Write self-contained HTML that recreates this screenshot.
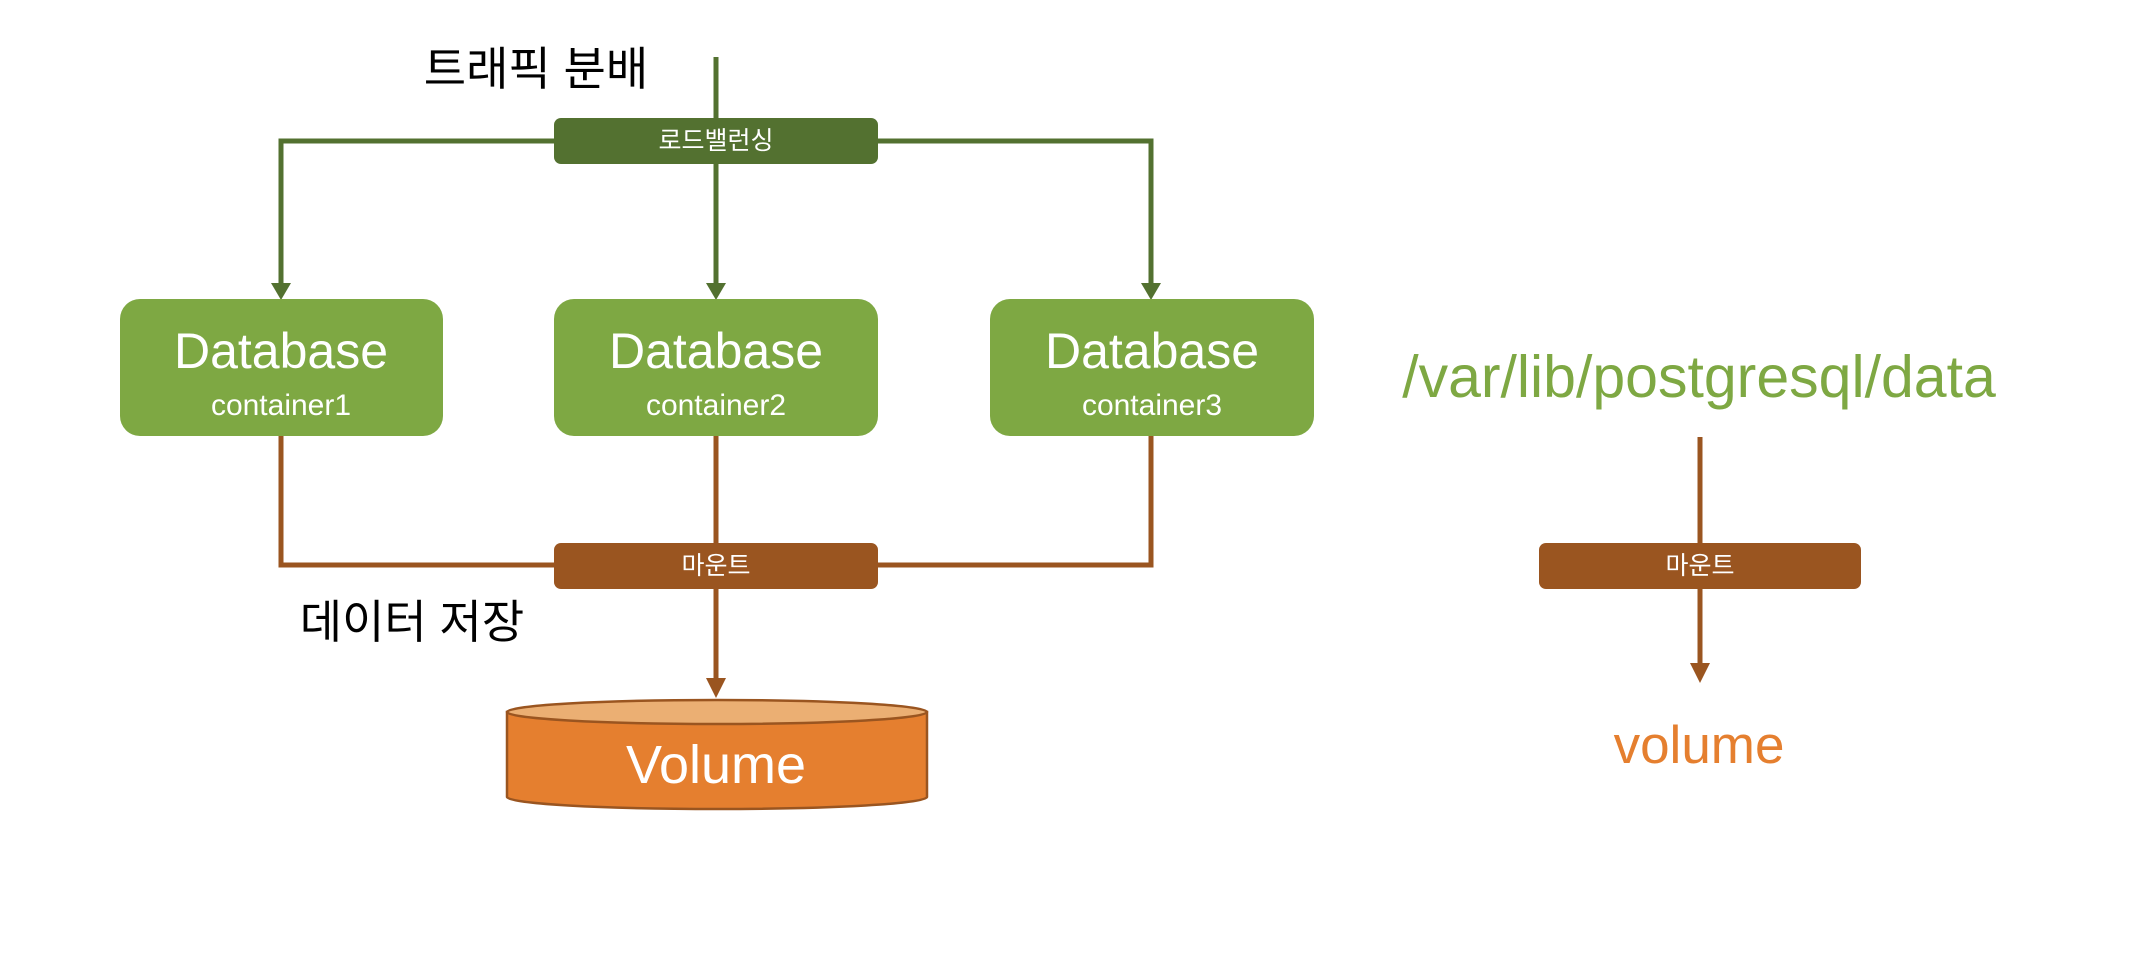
<!DOCTYPE html>
<html><head><meta charset="utf-8"><style>
html,body{margin:0;padding:0;background:#fff;}
svg text{font-family:"Liberation Sans","Noto Sans CJK KR",sans-serif;}
</style></head><body>
<svg width="2144" height="966" viewBox="0 0 2144 966" xmlns="http://www.w3.org/2000/svg">
<g stroke="#537130" stroke-width="5" fill="none">
<line x1="716" y1="57" x2="716" y2="290"/>
<polyline points="281,290 281,141 1151,141 1151,290"/>
</g>
<g fill="#537130">
<path d="M271,283 L291,283 L281,300 z"/>
<path d="M706,283 L726,283 L716,300 z"/>
<path d="M1141,283 L1161,283 L1151,300 z"/>
</g>
<rect x="554" y="118" width="324" height="46" rx="7" fill="#537130"/>
<text x="716" y="149" font-size="25" fill="#fff" text-anchor="middle">로드밸런싱</text>
<text x="536" y="85" font-size="46" fill="#000" text-anchor="middle">트래픽 분배</text>

<g fill="#7ea843">
<rect x="120" y="299" width="323" height="137" rx="20"/>
<rect x="554" y="299" width="324" height="137" rx="20"/>
<rect x="990" y="299" width="324" height="137" rx="20"/>
</g>
<g fill="#fff" text-anchor="middle">
<text x="281" y="368" font-size="50">Database</text>
<text x="281" y="415" font-size="30">container1</text>
<text x="716" y="368" font-size="50">Database</text>
<text x="716" y="415" font-size="30">container2</text>
<text x="1152" y="368" font-size="50">Database</text>
<text x="1152" y="415" font-size="30">container3</text>
</g>

<g stroke="#9a5520" stroke-width="5" fill="none">
<polyline points="281,436 281,565 1151,565 1151,436"/>
<line x1="716" y1="436" x2="716" y2="690"/>
<line x1="1700" y1="437" x2="1700" y2="670"/>
</g>
<g fill="#9a5520">
<path d="M706,678 L726,678 L716,698 z"/>
<path d="M1690,663 L1710,663 L1700,683 z"/>
</g>
<rect x="554" y="543" width="324" height="46" rx="7" fill="#9a5520"/>
<text x="716" y="574" font-size="25" fill="#fff" text-anchor="middle">마운트</text>
<rect x="1539" y="543" width="322" height="46" rx="7" fill="#9a5520"/>
<text x="1700" y="574" font-size="25" fill="#fff" text-anchor="middle">마운트</text>
<text x="412" y="638" font-size="46" fill="#000" text-anchor="middle">데이터 저장</text>

<path d="M507,712 L507,797 A210,12 0 0 0 927,797 L927,712 z" fill="#e57f2f" stroke="#9a5520" stroke-width="2.5"/>
<ellipse cx="717" cy="712" rx="210" ry="12" fill="#ebaf73" stroke="#9a5520" stroke-width="2.5"/>
<text x="716" y="783" font-size="54" fill="#fff" text-anchor="middle">Volume</text>

<text x="1699" y="397" font-size="59" fill="#7ea843" text-anchor="middle">/var/lib/postgresql/data</text>
<text x="1699" y="763" font-size="53" fill="#e57f2f" text-anchor="middle">volume</text>
</svg>
</body></html>
